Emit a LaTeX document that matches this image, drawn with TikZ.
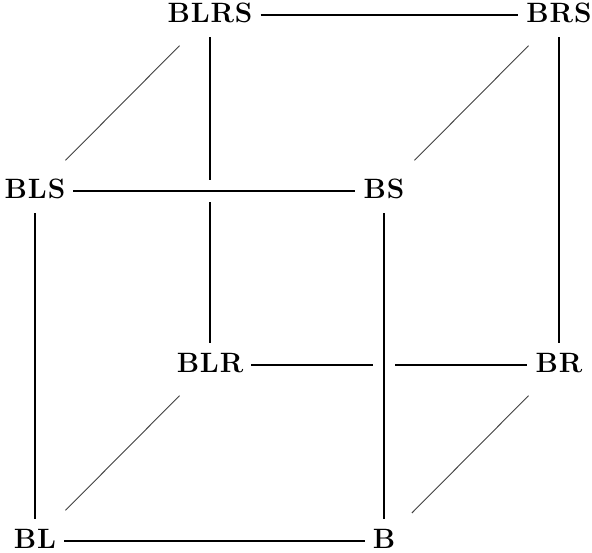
\documentclass[tikz,border=0pt]{standalone}
\usepackage{fontspec}
\newfontfamily\lblfont{Latin Modern Roman}[LetterSpace=3]
\begin{document}
\begin{tikzpicture}[x=1pt,y=-1pt,
  lbl/.style={inner xsep=8pt, inner ysep=8pt, text height=21pt, text depth=7pt,
    font=\lblfont\fontsize{28}{32}\selectfont\bfseries},
  edge/.style={line width=1.8pt},
  heavy/.style={line width=2.8pt},
  slant/.style={line width=0.9pt, draw=black!75, shorten <=12pt, shorten >=12pt},
  over/.style={preaction={draw=white, line width=22pt}}]
\useasboundingbox (0,0) rectangle (592,552);

% top face
\node[lbl] (BLRS) at (210,15) {BLRS};
\node[lbl] (BRS)  at (559,15) {BRS};
\node[lbl] (BLS)  at (35,191) {BLS};
\node[lbl] (BS)   at (384,191) {BS};
% bottom face
\node[lbl] (BLR)  at (210,365) {BLR};
\node[lbl] (BR)   at (559,365) {BR};
\node[lbl] (BL)   at (35,541) {BL};
\node[lbl] (B)    at (384,541) {B};

% back edges
\draw[edge] (BLRS) -- (BRS);
\draw[edge] (BLRS) -- (BLR);
\draw[heavy] (BRS) -- (BR);
\draw[edge] (BLR) -- (BR);

% front edges, passing over the back ones
\draw[edge, over] (BLS) -- (BS);
\draw[edge, over] (BS) -- (B);
\draw[edge] (BLS) -- (BL);
\draw[edge] (BL) -- (B);

% depth edges
\draw[slant] (BLS) -- (BLRS);
\draw[slant] (BS) -- (BRS);
\draw[slant] (BL) -- (BLR);
\draw[slant] (B) -- (BR);
\end{tikzpicture}
\end{document}
